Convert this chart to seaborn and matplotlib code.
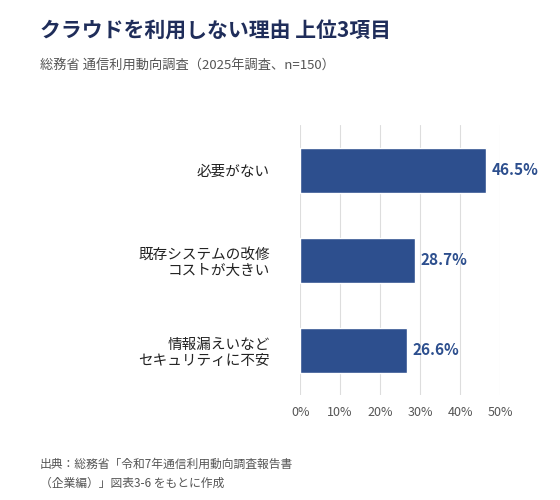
import matplotlib
matplotlib.use("Agg")
import matplotlib.pyplot as plt
import seaborn as sns
import pandas as pd

categories = ["必要がない", "既存システムの改修\nコストが大きい", "情報漏えいなど\nセキュリティに不安"]
values = [46.5, 28.7, 26.6]
ticks = [0, 10, 20, 30, 40, 50]
tick_labels = ["0%", "10%", "20%", "30%", "40%", "50%"]

sns.set_style("white")
plt.rcParams['font.family'] = ['Noto Sans CJK JP', 'DejaVu Sans']

navy = "#2D4F8E"
df = pd.DataFrame({"cat": categories, "val": values})
fig = plt.figure(figsize=(5.6, 5.0), dpi=100)
ax = fig.add_axes([0.536, 0.21, 0.357, 0.54])
sns.barplot(data=df, x="val", y="cat", color=navy, width=0.5, ax=ax, saturation=1)
ax.set_xlim(0, 50)
ax.set_xticks(ticks)
ax.set_xticklabels(tick_labels, fontsize=9, color="#555555")
ax.tick_params(axis="y", labelsize=10.5, colors="#222222", length=0, pad=22)
ax.tick_params(axis="x", length=0, pad=8)
for lab in ax.get_yticklabels():
    lab.set_horizontalalignment("right")
    lab.set_multialignment("right")
ax.set_xlabel(""); ax.set_ylabel("")
ax.grid(axis="x", color="#DDDDDD", linewidth=0.8)
ax.set_axisbelow(True)
for s in ax.spines.values():
    s.set_visible(False)
for i, v in enumerate(values):
    ax.text(v + 1.5, i, f"{v}%", va="center", ha="left", fontsize=11, fontweight="bold", color=navy)

fig.text(0.071, 0.925, "クラウドを利用しない理由 上位3項目", fontsize=15, fontweight="bold", color="#1F2D5A")
fig.text(0.071, 0.862, "総務省 通信利用動向調査（2025年調査、n=150）", fontsize=9.5, color="#555555")
fig.text(0.071, 0.085, "出典：総務省「令和7年通信利用動向調査報告書\n（企業編）」図表3-6 をもとに作成", fontsize=8.5, color="#555555", linespacing=1.6, va="top")
fig.savefig("out.png", dpi=100, facecolor="white")
